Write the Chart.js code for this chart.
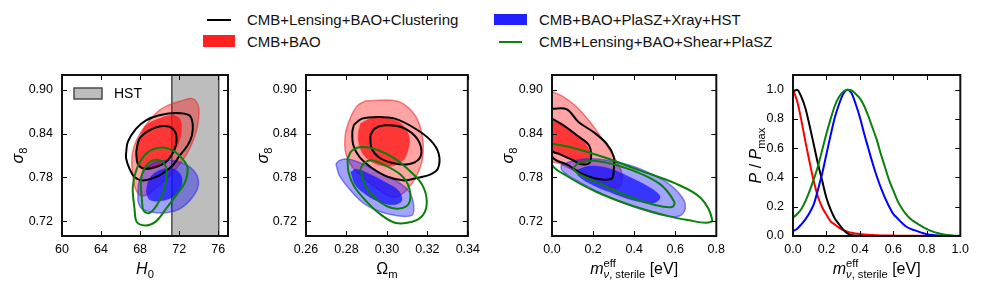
<!DOCTYPE html>
<html><head><meta charset="utf-8">
<script src="https://cdn.jsdelivr.net/npm/chart.js@4.4.1/dist/chart.umd.min.js"></script>
<style>
body{margin:0;width:981px;height:291px;background:#fff;position:relative;overflow:hidden;font-family:"Liberation Sans",Arial,sans-serif;}
canvas{position:absolute;top:0;}
.lt{position:absolute;font-size:15px;line-height:16px;white-space:nowrap;color:#111;}
.sw{position:absolute;}
</style></head><body>
<div class="sw" style="left:207px;top:19px;width:24px;height:2px;background:#000"></div>
<div class="lt" style="left:247px;top:12px">CMB+Lensing+BAO+Clustering</div>
<div class="sw" style="left:203px;top:35px;width:32px;height:12px;background:#ff2020"></div>
<div class="lt" style="left:247px;top:34px">CMB+BAO</div>
<div class="sw" style="left:494px;top:14px;width:33px;height:11px;background:#2020ff"></div>
<div class="lt" style="left:539px;top:12px">CMB+BAO+PlaSZ+Xray+HST</div>
<div class="sw" style="left:499px;top:41px;width:23px;height:2px;background:#108010"></div>
<div class="lt" style="left:539px;top:34px">CMB+Lensing+BAO+Shear+PlaSZ</div>

<canvas id="c1" width="242" height="291" style="left:0px"></canvas>
<canvas id="c2" width="242" height="291" style="left:244px"></canvas>
<canvas id="c3" width="241" height="291" style="left:490px"></canvas>
<canvas id="c4" width="244" height="291" style="left:731px"></canvas>
<script>
// ---------- axis ticks / ranges ----------
const h0Ticks = [60, 64, 68, 72, 76];
const h0Range = [60, 77];
const s8Ticks = [0.72, 0.78, 0.84, 0.90];
const s8Range = [0.70, 0.92];
const omTicks = [0.26, 0.28, 0.30, 0.32, 0.34];
const omRange = [0.26, 0.34];
const mnuTicks = [0.0, 0.2, 0.4, 0.6, 0.8];
const mnuRange = [0.0, 0.8];
const mnuTicks4 = [0.0, 0.2, 0.4, 0.6, 0.8, 1.0];
const mnuRange4 = [0.0, 1.0];
const pTicks = [0.0, 0.2, 0.4, 0.6, 0.8, 1.0];
const pRange = [0.0, 1.1];
const hstBand = [71.25, 76.05];

// ---------- Panel 1: H0 vs sigma8 contours ----------
const h0RedOuter = [[70.83,0.8786],[72.19,0.8845],[73.38,0.8877],[73.99,0.8763],[73.89,0.8512],[73.45,0.8307],[72.70,0.8102],[71.68,0.792],[70.49,0.776],[69.29,0.762],[68.27,0.7546],[67.59,0.7624],[67.25,0.7829],[67.15,0.8057],[67.42,0.8239],[68.10,0.8421],[69.12,0.8604],[69.97,0.8717]];
const h0RedInner = [[68.10,0.8398],[68.61,0.8512],[69.97,0.8604],[71.34,0.8649],[72.09,0.8594],[72.22,0.8421],[71.85,0.8239],[71.17,0.8093],[70.31,0.7988],[69.12,0.792],[68.10,0.792],[67.69,0.8057],[67.76,0.8239]];
const h0BlackOuter = [[66.57,0.8148],[66.74,0.8285],[67.59,0.8467],[68.61,0.8581],[69.97,0.8649],[71.68,0.8681],[73.04,0.8649],[73.38,0.8535],[73.31,0.8376],[72.87,0.8239],[72.02,0.8093],[71.34,0.7966],[69.97,0.7829],[68.27,0.776],[67.42,0.7806],[66.91,0.792],[66.57,0.8057]];
const h0BlackInner = [[67.59,0.8148],[67.93,0.833],[68.95,0.8444],[70.31,0.8503],[71.34,0.8467],[71.74,0.833],[71.40,0.8148],[70.66,0.8011],[69.63,0.7943],[68.44,0.792],[67.76,0.7988]];
const h0BlueOuter = [[67.76,0.7487],[67.93,0.776],[68.95,0.7966],[70.66,0.8034],[72.53,0.7988],[73.72,0.7852],[73.96,0.7692],[73.38,0.7533],[72.19,0.7382],[70.66,0.7318],[69.12,0.7328],[68.10,0.7382]];
const h0BlueInner = [[68.61,0.760],[68.95,0.7783],[69.97,0.7897],[71.34,0.792],[72.19,0.7829],[72.19,0.7669],[71.34,0.7533],[69.97,0.7478],[68.95,0.75]];
const h0GreenOuter = [[67.42,0.7373],[67.25,0.7669],[67.66,0.792],[68.61,0.8125],[69.97,0.8207],[71.34,0.8171],[72.46,0.8034],[72.87,0.792],[72.60,0.7738],[71.68,0.7555],[70.66,0.7373],[69.63,0.72],[68.61,0.7145],[67.66,0.7191]];
const h0GreenInner = [[68.20,0.7464],[68.10,0.7783],[68.71,0.7975],[69.63,0.8043],[70.49,0.7988],[70.72,0.7829],[70.38,0.7601],[69.70,0.7419],[68.95,0.7314],[68.34,0.735]];

// ---------- Panel 2: Omega_m vs sigma8 contours ----------
const omRedOuter = [[0.2894,0.8845],[0.3023,0.8854],[0.3087,0.8795],[0.3144,0.8626],[0.3173,0.8398],[0.3179,0.8125],[0.316,0.7897],[0.3123,0.7715],[0.3071,0.7565],[0.3023,0.7533],[0.2958,0.7637],[0.289,0.7783],[0.2829,0.7943],[0.2797,0.8125],[0.2794,0.8376],[0.2818,0.8604],[0.2853,0.8777]];
const omRedInner = [[0.2869,0.8535],[0.2926,0.8613],[0.3006,0.8604],[0.3071,0.8535],[0.3108,0.8376],[0.3106,0.8193],[0.3079,0.8034],[0.3023,0.7956],[0.2958,0.7975],[0.2902,0.8057],[0.2869,0.8193],[0.2858,0.8376]];
const omBlackOuter = [[0.2837,0.8521],[0.2877,0.8604],[0.2958,0.8626],[0.3039,0.8604],[0.3135,0.8476],[0.3216,0.8307],[0.3256,0.8125],[0.3252,0.792],[0.3213,0.7838],[0.3152,0.7797],[0.3087,0.776],[0.3006,0.7806],[0.2926,0.7929],[0.2865,0.8079],[0.2834,0.8239],[0.2829,0.8421]];
const omBlackInner = [[0.2918,0.8376],[0.2939,0.8467],[0.299,0.8512],[0.3071,0.849],[0.3135,0.8376],[0.3168,0.8216],[0.316,0.8057],[0.3103,0.7979],[0.3023,0.8002],[0.2958,0.808],[0.2923,0.8207]];
const omBlueOuter = [[0.2748,0.7988],[0.2768,0.8034],[0.2813,0.8048],[0.2894,0.7966],[0.2974,0.7852],[0.3055,0.7738],[0.3111,0.7601],[0.3132,0.7419],[0.3123,0.7282],[0.3039,0.7282],[0.2958,0.7341],[0.2877,0.7464],[0.2813,0.7647],[0.2765,0.7829]];
const omBlueInner = [[0.2821,0.7874],[0.2848,0.7911],[0.291,0.7852],[0.299,0.7738],[0.3055,0.7624],[0.3074,0.7487],[0.3039,0.7428],[0.2974,0.7455],[0.2902,0.7555],[0.2845,0.7692]];
const omGreenOuter = [[0.2805,0.8057],[0.2829,0.8171],[0.2881,0.8216],[0.2958,0.8171],[0.3039,0.8057],[0.3119,0.7874],[0.3176,0.7692],[0.3197,0.7464],[0.3177,0.7282],[0.3119,0.7191],[0.3039,0.7182],[0.2958,0.7318],[0.2894,0.7487],[0.2837,0.7683],[0.281,0.7874]];
const omGreenInner = [[0.2869,0.792],[0.2889,0.8002],[0.2926,0.8034],[0.299,0.7966],[0.3071,0.7829],[0.3111,0.7647],[0.3108,0.7441],[0.3055,0.7373],[0.2998,0.741],[0.2942,0.7519],[0.2894,0.7683]];

// ---------- Panel 3: m_nu vs sigma8 contours ----------
const mnRedOuter = [[0,0.8977],[0.0563,0.89],[0.1207,0.8763],[0.1851,0.8558],[0.2495,0.8307],[0.2978,0.8102],[0.338,0.7874],[0.338,0.7715],[0.3139,0.7656],[0.2575,0.7683],[0.1851,0.7783],[0.1046,0.7897],[0.0402,0.7988],[0,0.8034]];
const mnRedInner = [[0,0.8604],[0.0563,0.8512],[0.1207,0.8376],[0.169,0.8239],[0.1851,0.808],[0.1529,0.7988],[0.0885,0.8048],[0.0241,0.8125],[0,0.8157]];
const mnBlackOuter = [[0,0.874],[0.0724,0.8731],[0.1288,0.8558],[0.2012,0.8421],[0.2656,0.8262],[0.301,0.808],[0.301,0.792],[0.2897,0.7783],[0.2173,0.7783],[0.1449,0.7852],[0.0805,0.7966],[0,0.8093]];
const mnBlackInner = [[0,0.8604],[0.0563,0.8512],[0.1207,0.8376],[0.1819,0.823],[0.1851,0.8011],[0.1449,0.7979],[0.0966,0.8043],[0.0402,0.8116],[0,0.8171]];
const mnBlueOuter = [[0.0435,0.7966],[0.1046,0.8029],[0.2012,0.8057],[0.3139,0.8011],[0.4266,0.792],[0.5553,0.7738],[0.6326,0.7533],[0.6487,0.7373],[0.6197,0.7273],[0.5392,0.7282],[0.4266,0.7373],[0.3139,0.7487],[0.2012,0.7637],[0.1046,0.7783],[0.0483,0.7897]];
const mnBlueInner = [[0.1175,0.7897],[0.1851,0.7956],[0.2817,0.792],[0.3944,0.7783],[0.491,0.7637],[0.5264,0.7533],[0.499,0.7455],[0.4105,0.7478],[0.3139,0.7565],[0.2012,0.7692],[0.1288,0.782]];
const mnGreenOuter = [[0,0.8262],[0.1046,0.8202],[0.2495,0.8079],[0.4266,0.7897],[0.6036,0.7715],[0.7243,0.7519],[0.7807,0.7214],[0.7485,0.7182],[0.668,0.7214],[0.5714,0.7268],[0.3944,0.741],[0.2173,0.7601],[0.0724,0.782],[0,0.7975]];
const mnGreenInner = [[0.1014,0.792],[0.1288,0.7997],[0.2173,0.8025],[0.3783,0.7911],[0.5231,0.7715],[0.5956,0.7464],[0.5843,0.7396],[0.507,0.7419],[0.3783,0.7533],[0.2334,0.7715],[0.1288,0.7852]];

// ---------- Panel 4: 1D posteriors ----------
const mnuGrid = [0,0.025,0.05,0.075,0.1,0.125,0.15,0.175,0.2,0.225,0.25,0.275,0.3,0.325,0.35,0.375,0.4,0.425,0.45,0.475,0.5,0.525,0.55,0.575,0.6,0.625,0.65,0.675,0.7,0.725,0.75,0.775,0.8,0.825,0.85,0.875,0.9,0.925,0.95,0.975,1.0];
const pBlack = [0.985,1.0,0.95,0.87,0.75,0.62,0.49,0.375,0.26,0.18,0.12,0.08,0.044,0.018,0.007,0.002,0.001,0,0,0,0,0,0,0,0,0,0,0,0,0,0,0,0,0,0,0,0,0,0,0,0];
const pRed = [1.0,0.92,0.79,0.64,0.50,0.37,0.265,0.195,0.145,0.10,0.078,0.057,0.04,0.03,0.022,0.017,0.013,0.010,0.008,0.006,0.005,0.004,0.004,0.003,0.003,0.002,0.002,0.002,0.001,0.001,0.001,0.001,0,0,0,0,0,0,0,0,0];
const pBlue = [0.034,0.05,0.08,0.115,0.16,0.22,0.32,0.43,0.56,0.69,0.81,0.90,0.97,1.0,0.975,0.90,0.81,0.70,0.60,0.50,0.41,0.33,0.26,0.20,0.15,0.12,0.09,0.065,0.05,0.04,0.03,0.02,0.012,0.008,0.005,0.003,0.002,0.001,0.001,0,0];
const pGreen = [0.125,0.15,0.185,0.24,0.31,0.39,0.48,0.59,0.70,0.80,0.89,0.95,0.985,1.0,0.995,0.97,0.94,0.89,0.82,0.74,0.66,0.56,0.47,0.38,0.31,0.24,0.19,0.15,0.12,0.098,0.08,0.062,0.048,0.035,0.025,0.017,0.011,0.007,0.004,0.002,0.001];

// ---------- styling ----------
const FAM = '"Liberation Sans", Arial, sans-serif';
const C_RED_OUT = 'rgba(255,0,0,0.36)', C_RED_OUT_E = 'rgba(230,40,40,0.55)', C_RED_IN = 'rgba(255,20,20,0.76)';
const C_BLUE_OUT = 'rgba(0,0,255,0.36)', C_BLUE_OUT_E = 'rgba(40,40,230,0.55)', C_BLUE_IN = 'rgba(20,20,255,0.76)';
const C_GREEN = '#0a800a', C_BLACK = '#000';

function pts(arr) { const a = arr.map(p => ({x: p[0], y: p[1]})); a.push({x: arr[0][0], y: arr[0][1]}); return a; }
function lineSet(arr, col) { return {data: pts(arr), showLine: true, pointRadius: 0, borderColor: col, borderWidth: 2, fill: false, tension: 0.35}; }
function fillSet(arr, fillCol, edgeCol, w) { return {data: pts(arr), showLine: true, pointRadius: 0, borderColor: edgeCol, borderWidth: w, backgroundColor: fillCol, fill: 'shape', tension: 0.35}; }
function contourSets(c) {
  return [
    lineSet(c.gi, C_GREEN), lineSet(c.go, C_GREEN),
    lineSet(c.ki, C_BLACK), lineSet(c.ko, C_BLACK),
    fillSet(c.bi, C_BLUE_IN, 'rgba(20,20,255,0.3)', 1), fillSet(c.bo, C_BLUE_OUT, C_BLUE_OUT_E, 1.5),
    fillSet(c.ri, C_RED_IN, 'rgba(255,20,20,0.3)', 1), fillSet(c.ro, C_RED_OUT, C_RED_OUT_E, 1.5)
  ];
}

// rich text for math-like axis titles
function richDraw(ctx, segs, size, doDraw) {
  let x = 0, maxX = 0, supStart = 0;
  for (const s of segs) {
    const pos = s.pos || 'base';
    const fs = pos === 'base' ? size : size * 0.7;
    ctx.font = (s.it ? 'italic ' : '') + fs + 'px ' + FAM;
    if (pos === 'base') x = maxX;
    if (pos === 'sup') supStart = x;
    if (s.stack) x = supStart;
    const dy = pos === 'sub' ? size * 0.28 : (pos === 'sup' ? -size * 0.42 : 0);
    if (doDraw) ctx.fillText(s.t, x, dy);
    x += ctx.measureText(s.t).width + (s.gap || 0);
    maxX = Math.max(maxX, x);
  }
  return maxX;
}
function drawTitle(ctx, segs, size, cx, cy, rot) {
  ctx.save();
  ctx.fillStyle = '#000';
  ctx.textBaseline = 'alphabetic';
  ctx.textAlign = 'left';
  const w = richDraw(ctx, segs, size, false);
  ctx.translate(cx, cy);
  if (rot) ctx.rotate(-Math.PI / 2);
  ctx.translate(-w / 2, size * 0.36);
  richDraw(ctx, segs, size, true);
  ctx.restore();
}

const framePlugin = {
  id: 'frame',
  afterDatasetsDraw(chart, args, opts) {
    const {ctx, chartArea: a} = chart;
    const xs = chart.scales.x, ys = chart.scales.y;
    ctx.save();
    ctx.strokeStyle = '#000'; ctx.lineWidth = 1;
    ctx.beginPath();
    xs.ticks.forEach(t => { const px = Math.round(xs.getPixelForValue(t.value)) + 0.5;
      ctx.moveTo(px, a.bottom); ctx.lineTo(px, a.bottom - 5); ctx.moveTo(px, a.top); ctx.lineTo(px, a.top + 5); });
    ys.ticks.forEach(t => { const py = Math.round(ys.getPixelForValue(t.value)) + 0.5;
      ctx.moveTo(a.left, py); ctx.lineTo(a.left + 5, py); ctx.moveTo(a.right, py); ctx.lineTo(a.right - 5, py); });
    ctx.stroke();
    ctx.lineWidth = 2; ctx.strokeStyle = '#111';
    ctx.strokeRect(a.left, a.top, a.right - a.left, a.bottom - a.top);
    // inner legend (e.g. the HST band), styled from its dataset
    if (opts.innerLegend) {
      const d = chart.data.datasets.find(s => s.label === opts.innerLegend);
      const bx = a.left + 12, by = a.top + 13;
      ctx.fillStyle = '#fff'; ctx.fillRect(bx, by, 28, 11);
      ctx.fillStyle = d.backgroundColor; ctx.fillRect(bx, by, 28, 11);
      ctx.lineWidth = 1.5; ctx.strokeStyle = d.borderColor; ctx.strokeRect(bx, by, 28, 11);
      ctx.fillStyle = '#000'; ctx.font = '14px ' + FAM; ctx.textBaseline = 'middle'; ctx.textAlign = 'left';
      ctx.fillText(d.label, bx + 40, by + 6);
    }
    ctx.restore();
  },
  afterDraw(chart, args, opts) {
    const {ctx, chartArea: a} = chart;
    drawTitle(ctx, opts.xTitle, 16, (a.left + a.right) / 2, 268, false);
    drawTitle(ctx, opts.yTitle, 16, opts.yTitleX, (a.top + a.bottom) / 2, true);
  }
};

function axis(range, ticks, dec, isX, pad) {
  return {
    type: 'linear', min: range[0], max: range[1],
    grid: {display: false, drawTicks: false}, border: {display: false},
    ticks: {color: '#000', font: {family: FAM, size: 12.5}, padding: pad, callback: v => Number(v).toFixed(dec)},
    afterBuildTicks: s => { s.ticks = ticks.map(v => ({value: v})); },
    afterFit: s => { if (isX) s.height = 55; else s.width = 62; }
  };
}

function makeChart(id, datasets, xr, xt, xd, yr, yt, yd, xTitle, yTitle, yTitleX, innerLegend) {
  return new Chart(document.getElementById(id), {
    type: 'scatter',
    data: {datasets},
    options: {
      responsive: false, animation: false, devicePixelRatio: 1,
      layout: {padding: {top: 75, right: 14, left: 0, bottom: 0}},
      scales: {x: axis(xr, xt, xd, true, 6), y: axis(yr, yt, yd, false, 9)},
      plugins: {
        legend: {display: false},
        tooltip: {enabled: false},
        frame: {xTitle, yTitle, yTitleX, innerLegend}
      }
    },
    plugins: [framePlugin]
  });
}

const sigma8Title = [{t: 'σ', it: true}, {t: '8', pos: 'sub'}];

// Panel 1
const ds1 = contourSets({ro: h0RedOuter, ri: h0RedInner, bo: h0BlueOuter, bi: h0BlueInner, ko: h0BlackOuter, ki: h0BlackInner, go: h0GreenOuter, gi: h0GreenInner});
ds1.push({label: 'HST', data: [{x: hstBand[0], y: s8Range[0]}, {x: hstBand[0], y: s8Range[1]}, {x: hstBand[1], y: s8Range[1]}, {x: hstBand[1], y: s8Range[0]}, {x: hstBand[0], y: s8Range[0]}],
  showLine: true, pointRadius: 0, tension: 0, fill: 'shape', backgroundColor: 'rgba(128,128,128,0.52)', borderColor: '#4a4a4a', borderWidth: 1.5});
makeChart('c1', ds1, h0Range, h0Ticks, 0, s8Range, s8Ticks, 2,
  [{t: 'H', it: true}, {t: '0', pos: 'sub'}], sigma8Title, 17, 'HST');

// Panel 2
makeChart('c2', contourSets({ro: omRedOuter, ri: omRedInner, bo: omBlueOuter, bi: omBlueInner, ko: omBlackOuter, ki: omBlackInner, go: omGreenOuter, gi: omGreenInner}),
  omRange, omTicks, 2, s8Range, s8Ticks, 2,
  [{t: 'Ω'}, {t: 'm', pos: 'sub'}], sigma8Title, 18);

// Panel 3
const mnuTitle = [{t: 'm', it: true}, {t: 'eff', pos: 'sup'}, {t: 'ν', it: true, pos: 'sub', stack: true}, {t: ', sterile', pos: 'sub'}, {t: ' [eV]'}];
makeChart('c3', contourSets({ro: mnRedOuter, ri: mnRedInner, bo: mnBlueOuter, bi: mnBlueInner, ko: mnBlackOuter, ki: mnBlackInner, go: mnGreenOuter, gi: mnGreenInner}),
  mnuRange, mnuTicks, 1, s8Range, s8Ticks, 2, mnuTitle, sigma8Title, 17);

// Panel 4
function curve(ys, col) { return {data: mnuGrid.map((x, i) => ({x, y: ys[i]})), showLine: true, pointRadius: 0, borderColor: col, borderWidth: 2, fill: false, cubicInterpolationMode: 'monotone'}; }
makeChart('c4', [curve(pGreen, C_GREEN), curve(pBlue, '#0000ff'), curve(pBlack, C_BLACK), curve(pRed, '#ff0000')],
  mnuRange4, mnuTicks4, 1, pRange, pTicks, 1, mnuTitle,
  [{t: 'P', it: true}, {t: ' / '}, {t: 'P', it: true}, {t: 'max', pos: 'sub'}], 24);
</script>
</body></html>
